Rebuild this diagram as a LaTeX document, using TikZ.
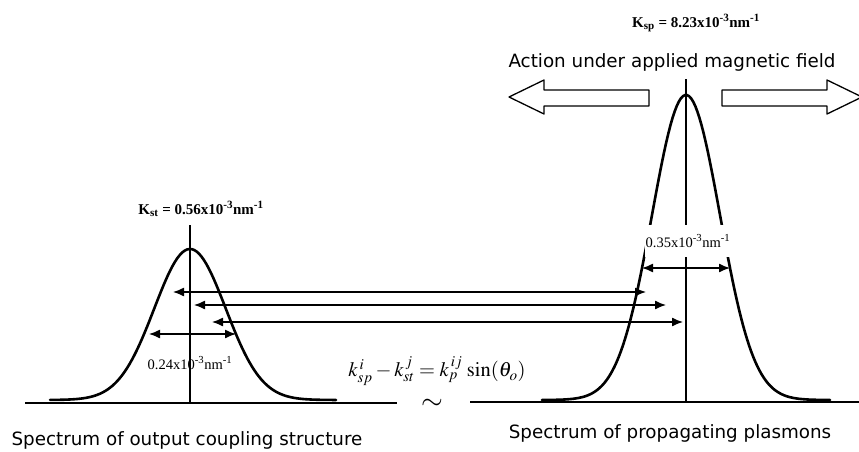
\documentclass[tikz,border=0pt]{standalone}
\usepackage{mathptmx}
\usepackage{fontspec}
\setmainfont{Liberation Serif}
\newfontfamily\capfont{DejaVu Sans}
\usetikzlibrary{arrows.meta}

\begin{document}
\begin{tikzpicture}[x=1pt, y=-1pt, line cap=round, line join=round,
    curve/.style={line width=2.6pt},
    axis/.style={line width=1.6pt, line cap=butt},
    dimarrow/.style={line width=1.3pt, {Latex[length=11pt,width=9pt]}-{Latex[length=11pt,width=9pt]}},
    bigarrow/.style={line width=1.3pt, fill=white},
    caption/.style={font=\capfont\fontsize{18.3}{21}\selectfont},
    value/.style={font=\fontsize{14.5}{16}\selectfont, inner sep=1pt},
    peak/.style={font=\bfseries\fontsize{15}{17}\selectfont}]
    % frame
    \useasboundingbox (0,0) rectangle (859,452);
    \clip (0,0) rectangle (859,452);

    % base lines
    \draw[axis] (25,403) -- (397,403);
    \draw[axis] (470,402) -- (859,402);

    % spectrum of the coupling structure
    \draw[axis] (190,225) -- (190,403);
    \draw[curve] plot[domain=50:336, samples=120] (\x, {400-151*exp(-0.5*((\x-190)/35.7)^2)});

    % spectrum of the plasmons
    \draw[axis] (686,79) -- (686,402);
    \draw[curve] plot[domain=542:830, samples=140] (\x, {400-305*exp(-0.5*((\x-686)/34)^2)});
    \node[value, fill=white, minimum height=32pt] (wsp) at (688,241) {0.35x10\textsuperscript{-3}nm\textsuperscript{-1}};

    % widths
    \coordinate (wstL) at (149,334);
    \coordinate (wstR) at (236,334);
    \coordinate (wspL) at (642,268);
    \coordinate (wspR) at (730,268);
    \draw[dimarrow] (wstL) -- (wstR);
    \draw[dimarrow] (wspL) -- (wspR);
    \node[value] (wst) at (190,363) {0.24x10\textsuperscript{-3}nm\textsuperscript{-1}};

    % coupling arrows
    \foreach \n/\y/\xa/\xb in {1/292/173/646, 2/305/194/666, 3/322/212/683} {
        \coordinate (st\n) at (\xa,\y);
        \coordinate (sp\n) at (\xb,\y);
        \draw[dimarrow] (st\n) -- (sp\n);
    }

    % field arrows
    \draw[bigarrow] (509,97) -- (544,80) -- (544,90) -- (649,90) -- (649,106) -- (544,106) -- (544,114) -- cycle;
    \draw[bigarrow] (722,90) -- (827,90) -- (827,80) -- (862,97) -- (827,114) -- (827,106) -- (722,106) -- cycle;

    % labels
    \node[peak] (kst) at (201,209) {K\textsubscript{st} = 0.56x10\textsuperscript{-3}nm\textsuperscript{-1}};
    \node[peak] (ksp) at (696,23) {K\textsubscript{sp} = 8.23x10\textsuperscript{-3}nm\textsuperscript{-1}};
    \node[caption] (field) at (672,62) {Action under applied magnetic field};
    \node[caption] (capst) at (187,440) {Spectrum of output coupling structure};
    \node[caption] (capsp) at (670,433) {Spectrum of propagating plasmons};
    \node[font=\fontsize{20.5}{24}\selectfont] (rule) at (437,371) {$k_{sp}^{\,i} - k_{st}^{\,j} = k_{p}^{\,ij}\,\sin(\theta_o)$};
    \node[font=\fontsize{28}{30}\selectfont] (approx) at (432,404) {$\sim$};
\end{tikzpicture}
\end{document}
